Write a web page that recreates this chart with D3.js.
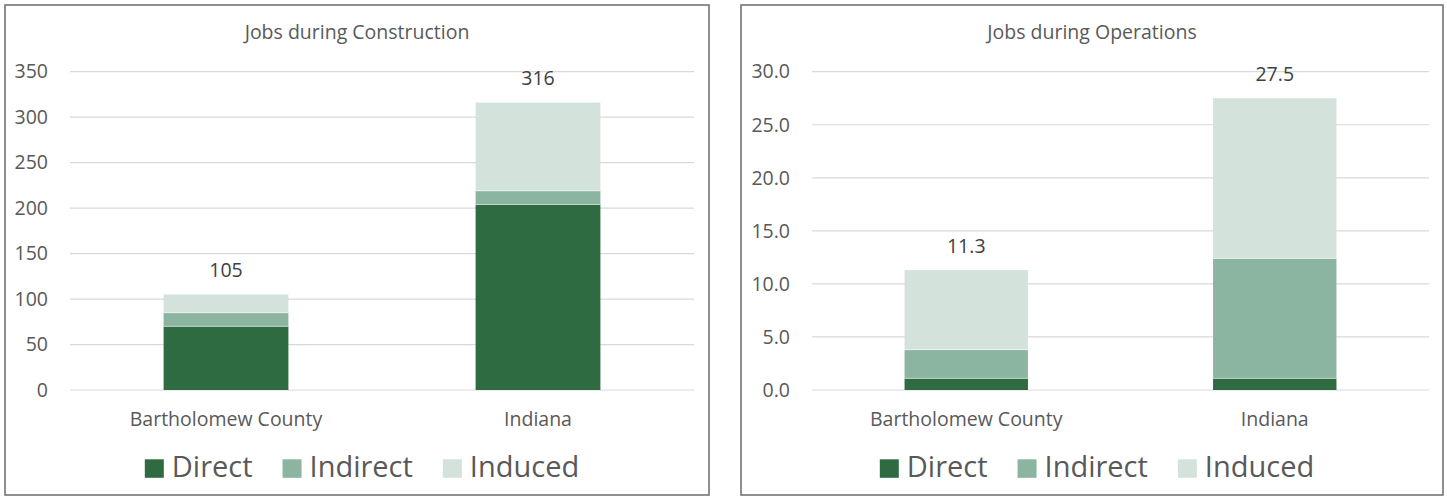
<!DOCTYPE html>
<html>
<head>
<meta charset="utf-8">
<script src="https://cdn.jsdelivr.net/npm/d3@7"></script>
<style>
  html, body { margin: 0; padding: 0; background: #fff; }
  svg { display: block; }
  text { font-family: "Open Sans", "Noto Sans", sans-serif; }
</style>
</head>
<body>
<svg id="chart" width="1447" height="499"></svg>
<script>
// ---------- data ----------
const categories = ["Bartholomew County", "Indiana"];
const seriesNames = ["Direct", "Indirect", "Induced"];
const seriesColors = ["#2e6b40", "#8bb5a1", "#d3e3dc"];

const constructionDirect = [70, 204];
const constructionIndirect = [15, 15];
const constructionInduced = [20, 97];
const constructionTotals = ["105", "316"];
const constructionTicks = [0, 50, 100, 150, 200, 250, 300, 350];

const operationsDirect = [1.1, 1.1];
const operationsIndirect = [2.7, 11.3];
const operationsInduced = [7.5, 15.1];
const operationsTotals = ["11.3", "27.5"];
const operationsTicks = [0, 5, 10, 15, 20, 25, 30];

// ---------- drawing ----------
const svg = d3.select("#chart");

function drawPanel(cfg) {
  const g = svg.append("g");
  // frame
  g.append("rect")
    .attr("x", cfg.box[0]).attr("y", cfg.box[1])
    .attr("width", cfg.box[2] - cfg.box[0]).attr("height", cfg.box[3] - cfg.box[1])
    .attr("fill", "#fff").attr("stroke", "#6b6b6b").attr("stroke-width", 1.5);

  const boxCenter = (cfg.box[0] + cfg.box[2]) / 2;

  // title
  g.append("text")
    .attr("x", boxCenter).attr("y", 39)
    .attr("text-anchor", "middle")
    .attr("font-size", 19.5).attr("fill", "#595959")
    .text(cfg.title);

  const x = d3.scaleBand().domain(categories).range([cfg.plotX0, cfg.plotX1]).paddingInner(0).paddingOuter(0);
  const y = d3.scaleLinear().domain([0, cfg.max]).range([390, 71.7]);

  // gridlines
  g.append("g").selectAll("line").data(cfg.ticks).join("line")
    .attr("x1", cfg.plotX0).attr("x2", cfg.plotX1)
    .attr("y1", d => y(d)).attr("y2", d => y(d))
    .attr("stroke", "#d9d9d9").attr("stroke-width", 1.2);

  // y axis labels
  const yAxis = d3.axisLeft(y).tickValues(cfg.ticks).tickSize(0).tickPadding(0).tickFormat(cfg.fmt);
  const ya = g.append("g").attr("transform", `translate(${cfg.plotX0 - 22},0)`).call(yAxis);
  ya.select(".domain").remove();
  ya.selectAll("text")
    .attr("font-size", 19.5).attr("fill", "#595959")
    .attr("font-family", "'Open Sans', sans-serif");

  // stack
  const rows = categories.map((c, i) => ({
    cat: c,
    Direct: cfg.direct[i], Indirect: cfg.indirect[i], Induced: cfg.induced[i]
  }));
  const stack = d3.stack().keys(seriesNames)(rows);
  const barW = x.bandwidth() * 0.4;

  g.append("g").selectAll("g").data(stack).join("g")
    .attr("fill", (d, i) => seriesColors[i])
    .selectAll("rect").data(d => d).join("rect")
    .attr("x", d => x(d.data.cat) + (x.bandwidth() - barW) / 2)
    .attr("width", barW)
    .attr("y", d => y(d[1]))
    .attr("height", d => y(d[0]) - y(d[1]));

  // separators between segments (thin white lines)
  g.append("g").selectAll("line").data(stack.slice(1).flatMap(s => s)).join("line")
    .attr("x1", d => x(d.data.cat) + (x.bandwidth() - barW) / 2)
    .attr("x2", d => x(d.data.cat) + (x.bandwidth() + barW) / 2)
    .attr("y1", d => y(d[0])).attr("y2", d => y(d[0]))
    .attr("stroke", "#ffffff").attr("stroke-opacity", 0.5).attr("stroke-width", 1);

  // totals labels
  const top = stack[stack.length - 1];
  g.append("g").selectAll("text").data(top).join("text")
    .attr("x", d => x(d.data.cat) + x.bandwidth() / 2)
    .attr("y", d => y(d[1]) - 17.5)
    .attr("text-anchor", "middle")
    .attr("font-size", 19.5).attr("fill", "#404040")
    .text((d, i) => cfg.totals[i]);

  // category labels
  g.append("g").selectAll("text").data(categories).join("text")
    .attr("x", d => x(d) + x.bandwidth() / 2)
    .attr("y", 426)
    .attr("text-anchor", "middle")
    .attr("font-size", 19.5).attr("fill", "#595959")
    .text(d => d);

  // legend
  const lg = g.append("g");
  const items = lg.selectAll("g").data(seriesNames).join("g");
  items.append("rect")
    .attr("width", 19).attr("height", 18.5)
    .attr("y", 459.3)
    .attr("fill", (d, i) => seriesColors[i]);
  items.append("text")
    .attr("x", 27).attr("y", 476.7)
    .attr("font-size", 29).attr("fill", "#595959")
    .text(d => d);
  let cx = 0;
  const gap = 30;
  items.each(function () {
    const w = d3.select(this).select("text").node().getComputedTextLength();
    d3.select(this).attr("transform", `translate(${cx},0)`);
    cx += 27 + w + gap;
  });
  const total = cx - gap;
  lg.attr("transform", `translate(${boxCenter + 5 - total / 2},0)`);
}

drawPanel({
  box: [5, 5, 709, 495],
  title: "Jobs during Construction",
  plotX0: 70, plotX1: 694,
  max: 350, ticks: constructionTicks, fmt: d3.format("d"),
  direct: constructionDirect, indirect: constructionIndirect, induced: constructionInduced,
  totals: constructionTotals
});

drawPanel({
  box: [741, 5, 1443, 495],
  title: "Jobs during Operations",
  plotX0: 812, plotX1: 1429,
  max: 30, ticks: operationsTicks, fmt: d3.format(".1f"),
  direct: operationsDirect, indirect: operationsIndirect, induced: operationsInduced,
  totals: operationsTotals
});
</script>
</body>
</html>
